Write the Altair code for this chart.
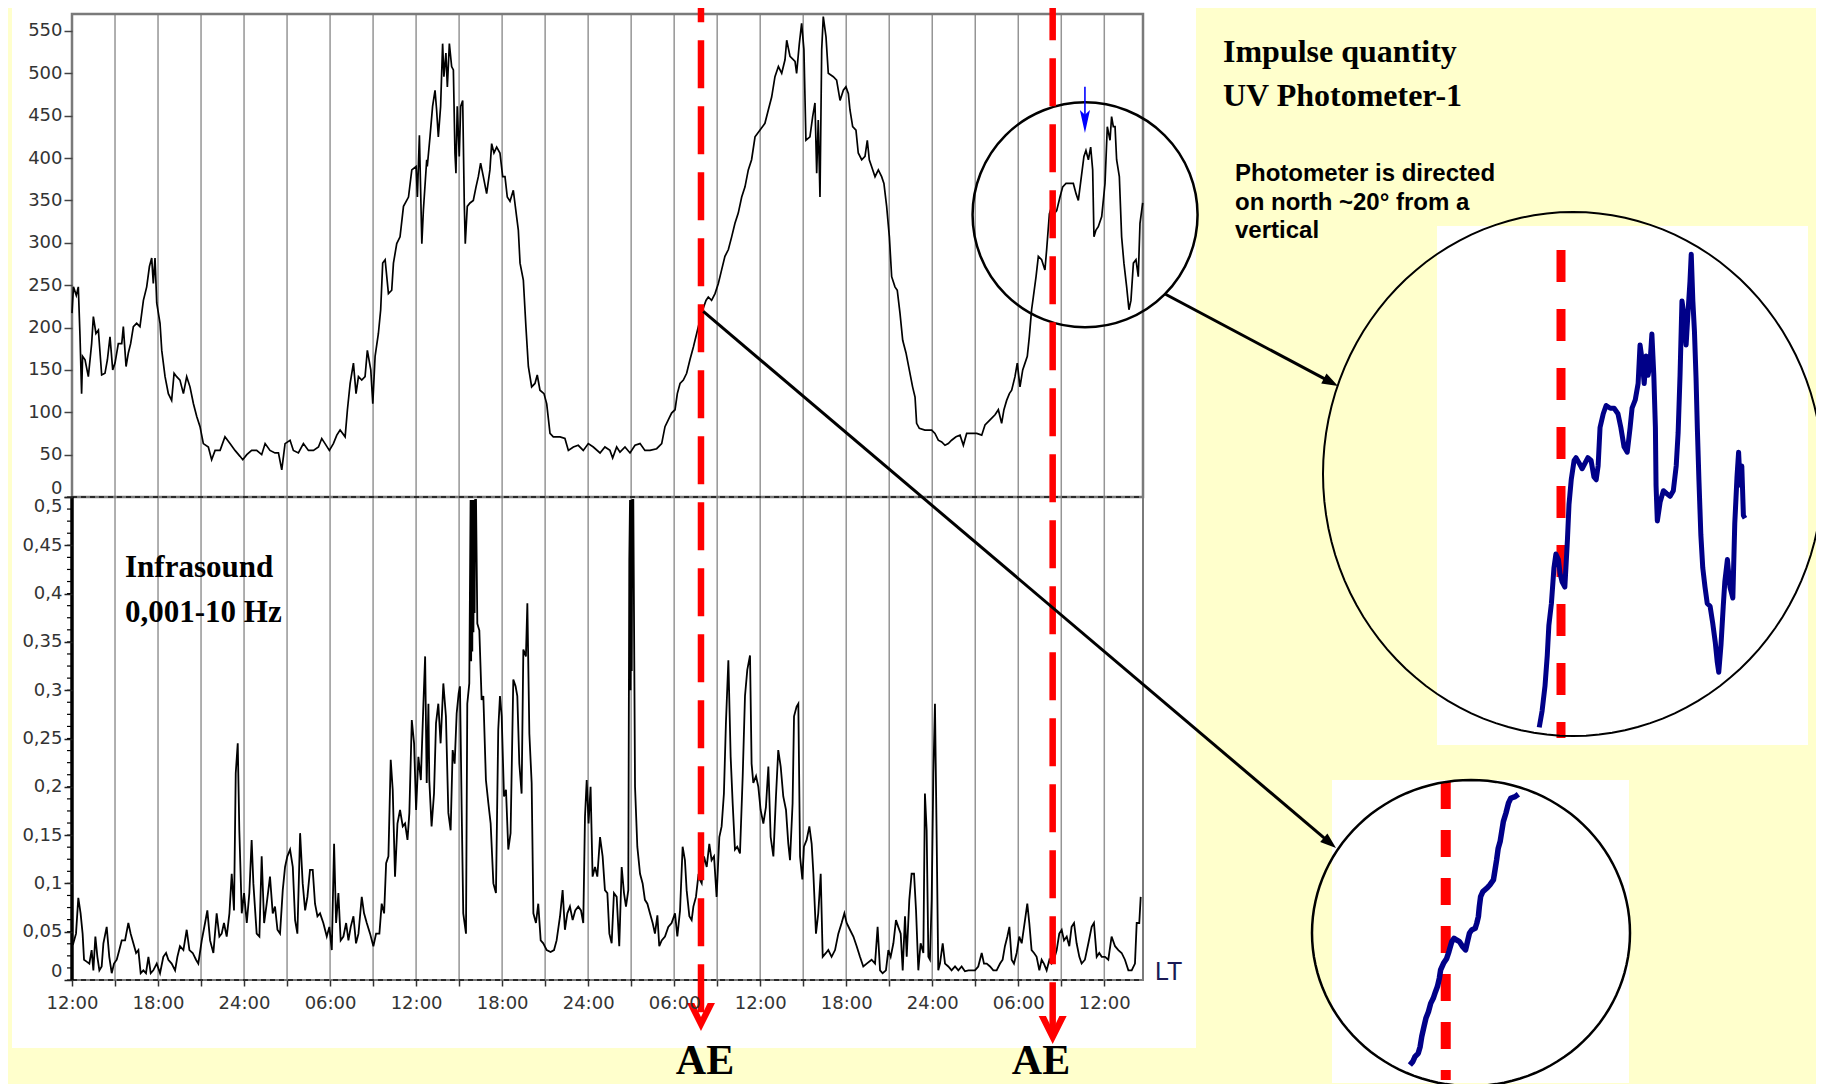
import math
import json
import pandas as pd
import altair as alt

# ---------------- values ----------------
# time axis: hours counted from 12:00 LT of the first day
UV_READINGS = [
    (0.00, 217), (0.10, 248), (0.30, 238), (0.44, 248), (0.56, 189), (0.67, 122), (0.74, 166), (0.91, 162),
    (1.14, 142), (1.37, 181), (1.49, 213), (1.67, 193), (1.84, 197), (2.07, 144), (2.30, 146), (2.47, 162),
    (2.65, 189), (2.84, 150), (3.00, 158), (3.23, 181), (3.47, 181), (3.58, 201), (3.77, 154), (3.93, 170),
    (4.09, 181), (4.28, 201), (4.51, 205), (4.74, 201), (4.98, 232), (5.21, 248), (5.40, 272), (5.56, 282),
    (5.67, 252), (5.79, 282), (5.91, 229), (6.14, 205), (6.26, 173), (6.49, 142), (6.72, 122), (6.95, 114),
    (7.12, 146), (7.30, 142), (7.53, 138), (7.77, 122), (8.00, 142), (8.23, 130), (8.47, 110), (8.70, 95),
    (8.93, 83), (9.16, 63), (9.51, 59), (9.74, 44), (9.98, 55), (10.33, 55), (10.67, 71), (11.02, 63),
    (11.37, 55), (11.72, 48), (11.91, 44), (12.19, 50), (12.53, 55), (12.88, 55), (13.23, 50), (13.47, 63),
    (13.81, 55), (14.16, 52), (14.40, 52), (14.63, 32), (14.86, 63), (15.21, 67), (15.44, 55), (15.79, 52),
    (16.14, 63), (16.49, 55), (16.84, 55), (17.19, 59), (17.42, 69), (17.65, 63), (17.95, 55), (18.23, 63),
    (18.47, 73), (18.70, 79), (19.05, 71), (19.21, 103), (19.40, 134), (19.63, 158), (19.81, 122), (19.98, 142),
    (20.21, 138), (20.44, 142), (20.60, 173), (20.84, 150), (20.98, 110), (21.14, 166), (21.37, 193), (21.53, 221),
    (21.67, 276), (21.84, 280), (22.07, 240), (22.30, 244), (22.42, 276), (22.65, 299), (22.88, 307), (23.12, 343),
    (23.47, 354), (23.70, 386), (24.00, 390), (24.09, 354), (24.23, 427), (24.40, 299), (24.51, 339), (24.74, 398),
    (24.78, 390), (24.97, 425), (25.15, 461), (25.32, 480), (25.43, 457), (25.55, 425), (25.71, 461), (25.85, 535),
    (25.94, 496), (26.08, 524), (26.18, 484), (26.32, 535), (26.48, 508), (26.60, 504), (26.71, 406), (26.78, 382),
    (26.87, 461), (27.01, 402), (27.11, 461), (27.25, 468), (27.36, 347), (27.43, 299), (27.57, 343), (27.76, 347),
    (27.99, 350), (28.18, 366), (28.34, 378), (28.50, 394), (28.69, 378), (28.92, 358), (29.15, 386), (29.27, 417),
    (29.43, 406), (29.62, 413), (29.85, 406), (30.04, 378), (30.20, 378), (30.36, 354), (30.55, 349), (30.78, 362),
    (31.01, 331), (31.13, 315), (31.25, 276), (31.48, 256), (31.66, 201), (31.83, 154), (32.06, 130), (32.29, 134),
    (32.45, 144), (32.64, 126), (32.92, 122), (33.11, 110), (33.34, 75), (33.57, 71), (34.04, 71), (34.38, 69),
    (34.62, 55), (34.97, 59), (35.31, 61), (35.66, 55), (36.01, 63), (36.36, 59), (36.83, 52), (37.17, 59),
    (37.52, 55), (37.71, 46), (37.99, 59), (38.22, 53), (38.57, 59), (38.92, 52), (39.27, 61), (39.62, 63),
    (39.96, 55), (40.31, 55), (40.78, 57), (41.13, 63), (41.36, 83), (41.59, 91), (41.82, 99), (42.06, 103),
    (42.22, 122), (42.41, 134), (42.64, 138), (42.87, 146), (43.10, 162), (43.34, 177), (43.57, 193), (43.80, 209),
    (43.99, 221), (44.22, 232), (44.38, 236), (44.61, 232), (44.85, 240), (45.08, 252), (45.31, 268), (45.54, 284),
    (45.78, 292), (46.01, 307), (46.24, 323), (46.47, 335), (46.71, 354), (46.94, 366), (47.17, 386), (47.40, 398),
    (47.64, 425), (47.99, 433), (48.33, 441), (48.57, 457), (48.80, 472), (49.03, 496), (49.27, 508), (49.50, 500),
    (49.73, 516), (49.85, 539), (50.08, 520), (50.43, 514), (50.54, 500), (50.73, 535), (50.89, 559), (51.05, 528),
    (51.19, 421), (51.47, 425), (51.66, 449), (51.82, 465), (51.94, 382), (52.05, 445), (52.17, 354), (52.29, 528),
    (52.40, 567), (52.59, 543), (52.75, 500), (53.10, 496), (53.33, 492), (53.57, 468), (53.80, 480), (53.98, 484),
    (54.15, 476), (54.26, 457), (54.45, 437), (54.68, 433), (54.84, 406), (55.08, 398), (55.31, 402), (55.47, 421),
    (55.61, 398), (55.77, 390), (56.01, 378), (56.24, 386), (56.47, 378), (56.63, 370), (56.82, 343), (57.01, 307),
    (57.17, 260), (57.40, 248), (57.56, 244), (57.75, 217), (57.94, 185), (58.17, 170), (58.40, 150), (58.63, 130),
    (58.80, 118), (58.91, 87), (59.10, 81), (59.49, 79), (59.96, 79), (60.19, 75), (60.42, 67), (60.66, 65),
    (60.89, 61), (61.12, 63), (61.35, 67), (61.66, 71), (61.94, 73), (62.17, 61), (62.40, 75), (62.75, 75),
    (63.10, 75), (63.45, 73), (63.68, 85), (64.03, 91), (64.38, 97), (64.61, 103), (64.84, 87), (65.00, 103),
    (65.19, 114), (65.38, 122), (65.54, 126), (65.77, 142), (65.93, 158), (66.12, 130), (66.31, 150), (66.47, 158),
    (66.63, 166), (66.77, 189), (66.93, 221), (67.05, 236), (67.24, 260), (67.40, 284), (67.63, 280), (67.86, 268),
    (67.98, 292), (68.17, 334), (68.33, 343), (68.49, 334), (68.68, 338), (68.91, 354), (69.10, 366), (69.33, 370),
    (69.61, 370), (69.84, 370), (70.03, 358), (70.19, 350), (70.37, 374), (70.58, 402), (70.72, 409), (70.89, 398),
    (71.05, 413), (71.19, 386), (71.28, 307), (71.42, 315), (71.58, 319), (71.82, 331), (72.05, 370), (72.21, 437),
    (72.40, 421), (72.51, 449), (72.63, 437), (72.75, 437), (72.86, 398), (73.05, 378), (73.21, 307), (73.37, 276),
    (73.56, 248), (73.72, 221), (73.86, 232), (74.03, 276), (74.21, 280), (74.37, 260), (74.49, 323), (74.68, 347),
]

INF_READINGS = [
    (0.00, 0.040), (0.09, 0.038), (0.28, 0.048), (0.44, 0.085), (0.60, 0.069), (0.74, 0.048), (0.84, 0.021),
    (1.02, 0.019), (1.21, 0.017), (1.37, 0.031), (1.49, 0.010), (1.63, 0.045), (1.77, 0.024), (1.91, 0.010),
    (2.07, 0.014), (2.19, 0.038), (2.42, 0.055), (2.60, 0.024), (2.77, 0.007), (2.93, 0.017), (3.12, 0.021),
    (3.30, 0.031), (3.47, 0.041), (3.70, 0.041), (3.93, 0.059), (4.09, 0.048), (4.28, 0.038), (4.47, 0.028),
    (4.63, 0.031), (4.79, 0.007), (4.98, 0.010), (5.16, 0.007), (5.33, 0.024), (5.49, 0.007), (5.67, 0.010),
    (5.91, 0.017), (6.14, 0.007), (6.37, 0.024), (6.56, 0.028), (6.72, 0.021), (6.95, 0.017), (7.19, 0.010),
    (7.35, 0.024), (7.53, 0.035), (7.77, 0.031), (8.00, 0.052), (8.19, 0.031), (8.42, 0.028), (8.65, 0.021),
    (8.81, 0.017), (9.05, 0.041), (9.28, 0.059), (9.44, 0.072), (9.63, 0.041), (9.86, 0.028), (10.09, 0.069),
    (10.28, 0.045), (10.44, 0.048), (10.60, 0.059), (10.79, 0.045), (10.98, 0.069), (11.14, 0.110), (11.30, 0.072),
    (11.42, 0.214), (11.56, 0.245), (11.67, 0.155), (11.84, 0.069), (12.00, 0.090), (12.19, 0.059), (12.37, 0.090),
    (12.53, 0.145), (12.65, 0.100), (12.88, 0.048), (13.07, 0.045), (13.23, 0.128), (13.40, 0.059), (13.58, 0.079),
    (13.81, 0.107), (14.00, 0.069), (14.16, 0.076), (14.33, 0.052), (14.51, 0.048), (14.70, 0.093), (14.86, 0.117),
    (15.02, 0.128), (15.21, 0.135), (15.40, 0.117), (15.56, 0.062), (15.72, 0.048), (15.91, 0.152), (16.09, 0.100),
    (16.26, 0.072), (16.42, 0.086), (16.60, 0.114), (16.79, 0.114), (16.95, 0.079), (17.12, 0.066), (17.30, 0.069),
    (17.53, 0.059), (17.77, 0.045), (17.95, 0.055), (18.12, 0.031), (18.28, 0.141), (18.42, 0.059), (18.58, 0.090),
    (18.74, 0.041), (18.93, 0.045), (19.12, 0.059), (19.28, 0.041), (19.44, 0.055), (19.63, 0.066), (19.81, 0.038),
    (19.98, 0.048), (20.21, 0.086), (20.37, 0.069), (20.56, 0.059), (20.79, 0.048), (21.02, 0.035), (21.21, 0.048),
    (21.44, 0.048), (21.60, 0.079), (21.77, 0.069), (21.91, 0.121), (22.07, 0.128), (22.23, 0.228), (22.37, 0.197),
    (22.53, 0.107), (22.70, 0.162), (22.88, 0.176), (23.07, 0.159), (23.23, 0.162), (23.40, 0.145), (23.53, 0.173),
    (23.70, 0.269), (23.86, 0.245), (24.00, 0.176), (24.16, 0.231), (24.33, 0.207), (24.51, 0.286), (24.63, 0.335),
    (24.74, 0.204), (24.86, 0.286), (24.92, 0.207), (25.08, 0.159), (25.25, 0.193), (25.39, 0.266), (25.55, 0.286),
    (25.71, 0.245), (25.90, 0.307), (26.08, 0.273), (26.25, 0.173), (26.41, 0.155), (26.55, 0.238), (26.69, 0.224),
    (26.83, 0.276), (26.97, 0.297), (27.06, 0.304), (27.18, 0.176), (27.29, 0.069), (27.48, 0.048), (27.57, 0.286),
    (27.71, 0.307), (27.80, 0.497), (27.84, 0.330), (27.88, 0.497), (27.92, 0.340), (27.96, 0.497), (28.00, 0.360),
    (28.04, 0.497), (28.08, 0.380), (28.12, 0.497), (28.18, 0.497), (28.27, 0.369), (28.41, 0.362), (28.57, 0.290),
    (28.69, 0.294), (28.87, 0.207), (29.04, 0.183), (29.20, 0.162), (29.39, 0.100), (29.57, 0.090), (29.73, 0.259),
    (29.85, 0.294), (29.97, 0.273), (30.13, 0.190), (30.27, 0.197), (30.43, 0.135), (30.59, 0.152), (30.78, 0.311),
    (30.94, 0.304), (31.06, 0.294), (31.20, 0.224), (31.36, 0.193), (31.48, 0.342), (31.66, 0.335), (31.76, 0.390),
    (31.90, 0.255), (32.06, 0.204), (32.18, 0.069), (32.36, 0.059), (32.52, 0.079), (32.69, 0.041), (32.87, 0.038),
    (33.11, 0.031), (33.38, 0.029), (33.62, 0.031), (33.80, 0.041), (34.04, 0.066), (34.22, 0.093), (34.38, 0.052),
    (34.55, 0.069), (34.73, 0.076), (34.92, 0.062), (35.10, 0.072), (35.31, 0.076), (35.50, 0.072), (35.66, 0.059),
    (35.78, 0.169), (35.90, 0.207), (36.03, 0.162), (36.17, 0.200), (36.31, 0.107), (36.48, 0.117), (36.64, 0.107),
    (36.83, 0.148), (37.01, 0.128), (37.17, 0.093), (37.34, 0.090), (37.48, 0.048), (37.64, 0.038), (37.80, 0.090),
    (37.99, 0.086), (38.17, 0.035), (38.34, 0.117), (38.50, 0.090), (38.64, 0.076), (38.80, 0.093), (38.87, 0.435),
    (38.92, 0.497), (38.96, 0.300), (39.00, 0.497), (39.04, 0.320), (39.08, 0.497), (39.15, 0.497), (39.27, 0.200),
    (39.43, 0.138), (39.62, 0.110), (39.80, 0.100), (39.96, 0.083),
    (40.13, 0.079), (40.31, 0.069), (40.50, 0.059), (40.66, 0.048), (40.83, 0.067), (40.96, 0.035), (41.13, 0.041),
    (41.36, 0.045), (41.59, 0.055), (41.82, 0.059), (42.06, 0.069), (42.22, 0.045), (42.41, 0.072), (42.59, 0.138),
    (42.75, 0.124), (42.87, 0.093), (43.06, 0.066), (43.22, 0.062), (43.34, 0.076), (43.52, 0.086), (43.68, 0.107),
    (43.92, 0.100), (44.08, 0.128), (44.27, 0.117), (44.45, 0.141), (44.61, 0.124), (44.78, 0.128), (44.96, 0.086),
    (45.15, 0.148), (45.31, 0.159), (45.47, 0.193), (45.61, 0.266), (45.78, 0.331), (45.94, 0.231), (46.08, 0.183),
    (46.24, 0.135), (46.40, 0.138), (46.59, 0.131), (46.78, 0.211), (46.94, 0.294), (47.10, 0.321), (47.29, 0.336),
    (47.40, 0.224), (47.52, 0.204), (47.71, 0.211), (47.87, 0.200), (48.03, 0.176), (48.22, 0.162), (48.40, 0.179),
    (48.57, 0.221), (48.73, 0.148), (48.92, 0.128), (49.10, 0.190), (49.26, 0.238), (49.43, 0.221), (49.61, 0.190),
    (49.80, 0.176), (49.96, 0.141), (50.08, 0.124), (50.26, 0.183), (50.36, 0.273), (50.54, 0.283), (50.66, 0.286),
    (50.78, 0.128), (50.94, 0.104), (51.05, 0.138), (51.24, 0.145), (51.43, 0.159), (51.59, 0.141), (51.71, 0.110),
    (51.89, 0.048), (52.05, 0.069), (52.22, 0.110), (52.36, 0.024), (52.59, 0.028), (52.75, 0.031), (52.98, 0.024),
    (53.22, 0.031), (53.45, 0.048), (53.68, 0.059), (53.87, 0.069), (54.03, 0.059), (54.26, 0.052), (54.50, 0.045),
    (54.73, 0.035), (54.96, 0.024), (55.19, 0.014), (55.43, 0.017), (55.77, 0.021), (56.01, 0.017), (56.19, 0.055),
    (56.36, 0.010), (56.54, 0.007), (56.77, 0.010), (56.94, 0.031), (57.10, 0.024), (57.29, 0.038), (57.47, 0.062),
    (57.63, 0.055), (57.80, 0.048), (57.94, 0.010), (58.10, 0.066), (58.22, 0.024), (58.40, 0.083), (58.56, 0.110),
    (58.73, 0.110), (58.87, 0.072), (59.03, 0.010), (59.19, 0.038), (59.38, 0.028), (59.49, 0.193), (59.61, 0.155),
    (59.73, 0.024), (59.84, 0.021), (59.96, 0.083), (60.08, 0.214), (60.19, 0.286), (60.31, 0.145), (60.42, 0.010),
    (60.54, 0.017), (60.73, 0.038), (60.89, 0.017), (61.12, 0.014), (61.35, 0.010), (61.59, 0.014), (61.82, 0.010),
    (62.05, 0.014), (62.28, 0.009), (62.52, 0.010), (62.75, 0.010), (62.98, 0.010), (63.21, 0.014), (63.45, 0.028),
    (63.61, 0.017), (63.80, 0.017), (64.03, 0.014), (64.26, 0.010), (64.49, 0.010), (64.73, 0.017), (64.91, 0.021),
    (65.07, 0.035), (65.24, 0.045), (65.38, 0.055), (65.54, 0.021), (65.70, 0.017), (65.89, 0.028), (66.07, 0.045),
    (66.24, 0.038), (66.47, 0.062), (66.63, 0.079), (66.77, 0.059), (66.93, 0.031), (67.10, 0.028), (67.28, 0.024),
    (67.47, 0.010), (67.63, 0.021), (67.79, 0.017), (67.98, 0.010), (68.17, 0.021), (68.33, 0.017), (68.49, 0.021),
    (68.68, 0.031), (68.86, 0.048), (69.03, 0.052), (69.19, 0.041), (69.38, 0.045), (69.56, 0.035), (69.72, 0.055),
    (69.89, 0.059), (70.07, 0.038), (70.26, 0.024), (70.42, 0.017), (70.65, 0.021), (70.89, 0.038), (71.12, 0.055),
    (71.28, 0.059), (71.47, 0.024), (71.65, 0.028), (71.82, 0.024), (72.05, 0.024), (72.28, 0.021), (72.51, 0.045),
    (72.75, 0.035), (72.98, 0.031), (73.21, 0.028), (73.44, 0.021), (73.68, 0.010), (73.91, 0.010), (74.14, 0.017),
    (74.26, 0.059), (74.44, 0.059), (74.54, 0.086),
]

# big magnified circle (second AE, photometer)
ZOOM_A_READINGS = [
    (67.72, 277), (67.81, 283), (67.90, 292), (67.97, 303), (68.02, 314), (68.10, 322), (68.18, 335), (68.24, 340),
    (68.32, 338), (68.37, 333), (68.43, 330), (68.52, 328), (68.60, 345), (68.65, 358), (68.72, 367), (68.81, 374),
    (68.87, 375), (68.97, 373), (69.06, 371), (69.15, 373), (69.24, 375), (69.34, 374), (69.43, 368), (69.50, 367),
    (69.56, 372), (69.62, 386), (69.72, 391), (69.81, 394), (69.94, 393), (70.06, 393), (70.18, 391), (70.27, 386),
    (70.37, 379), (70.47, 377), (70.56, 386), (70.62, 393), (70.72, 396), (70.81, 402), (70.87, 416), (70.93, 411),
    (71.00, 402), (71.06, 412), (71.12, 405), (71.18, 409), (71.24, 420), (71.30, 405), (71.35, 386), (71.37, 365),
    (71.41, 352), (71.50, 359), (71.60, 363), (71.70, 362), (71.81, 361), (71.91, 363), (72.00, 372), (72.06, 384),
    (72.12, 405), (72.18, 432), (72.24, 427), (72.31, 416), (72.37, 428), (72.43, 439), (72.47, 449), (72.52, 432),
    (72.57, 421), (72.62, 404), (72.66, 386), (72.71, 367), (72.77, 347), (72.83, 335), (72.90, 328), (72.97, 322),
    (73.06, 321), (73.14, 315), (73.22, 308), (73.28, 301), (73.33, 297), (73.40, 307), (73.47, 321), (73.52, 330),
    (73.60, 338), (73.68, 328), (73.77, 324), (73.83, 351), (73.90, 368), (73.95, 377), (74.00, 365), (74.05, 372),
    (74.10, 354), (74.15, 353),
]

# small magnified circle (first AE, photometer)
ZOOM_B_READINGS = [
    (42.75, 138.0), (42.84, 140.4), (42.91, 143.9), (43.01, 146.3), (43.07, 151.0), (43.12, 158.1), (43.19, 165.2),
    (43.25, 171.1), (43.33, 175.8), (43.40, 181.7), (43.48, 185.3), (43.55, 190.0), (43.61, 193.6), (43.67, 199.5),
    (43.71, 205.4), (43.80, 210.1), (43.90, 213.6), (43.97, 218.4), (44.06, 225.5), (44.13, 227.8), (44.21, 226.6),
    (44.30, 225.5), (44.40, 221.9), (44.49, 219.6), (44.56, 226.6), (44.61, 231.4), (44.68, 233.7), (44.79, 234.9),
    (44.84, 238.5), (44.89, 243.2), (44.92, 250.3), (44.96, 257.4), (45.03, 260.9), (45.15, 263.3), (45.25, 265.7),
    (45.36, 269.2), (45.41, 276.3), (45.46, 283.4), (45.51, 291.7), (45.57, 296.4), (45.62, 303.5), (45.67, 310.6),
    (45.75, 316.5), (45.83, 323.6), (45.90, 327.1), (46.04, 328.3), (46.14, 330.0),
]

AE_HOURS = [43.87, 68.4]
GRID_HOURS = [3, 6, 9, 12, 15, 18, 21, 24, 27, 30, 33, 36, 39, 42, 45, 48, 51, 54, 57, 60, 63, 66, 69, 72]
X_TICKS = [0] + GRID_HOURS
X_LABELS = ["12:00", "18:00", "24:00", "06:00"]
UV_TICKS = [0, 50, 100, 150, 200, 250, 300, 350, 400, 450, 500, 550]
INF_TICKS = [0, 0.05, 0.1, 0.15, 0.2, 0.25, 0.3, 0.35, 0.4, 0.45, 0.5]
INF_MINOR = [round(i * 0.0125, 4) for i in range(41)]
CIRCLE_CENTER = (70.66, 333)          # hours, impulses
BLUE_ARROW = (70.65, 484, 436, 429.5)  # hours, from, to, tip
CONNECT_START = (44.03, 219)

TITLE_LINES = ["Impulse quantity", "UV Photometer-1"]
NOTE_LINES = ["Photometer is directed", "on north ~20\u00b0 from a", "vertical"]
INFRA_LINES = ["Infrasound", "0,001-10 Hz"]

# ---------------- layout ----------------
W, HT, H = 1071, 483, 966
X_MAX, UV_MAX, INF_MAX = 74.7, 570, 0.5


def px(h):
    return h / X_MAX * W


def py_top(v):
    return HT - v / UV_MAX * HT


uv_df = pd.DataFrame(UV_READINGS, columns=["h", "v"])
inf_df = pd.DataFrame(INF_READINGS, columns=["h", "v"])
za_df = pd.DataFrame(ZOOM_A_READINGS, columns=["h", "v"])
zb_df = pd.DataFrame(ZOOM_B_READINGS, columns=["h", "v"])
grid_df = pd.DataFrame({"h": GRID_HOURS})
minor_df = pd.DataFrame({"v": INF_MINOR})
one = pd.DataFrame({"k": [0]})

SX = alt.Scale(domain=[0, X_MAX], nice=False, zero=False)
SY_TOP = alt.Scale(domain=[0, UV_MAX], range=[HT, 0], nice=False, zero=False)
SY_BOT = alt.Scale(domain=[0, INF_MAX], range=[H, HT], nice=False, zero=False)

LABEL_FONT = "DejaVu Sans"
x_expr = "datum.value % 6 == 0 ? " + json.dumps(X_LABELS) + "[floor(datum.value / 6) % 4] : ''"
AXIS_X = alt.Axis(values=X_TICKS, labelExpr=x_expr, orient="bottom", title=None, grid=False, domain=False,
                  tickSize=6, tickColor="#333333", tickWidth=1.5, labelFont=LABEL_FONT, labelFontSize=18,
                  labelColor="#333333", labelPadding=8, labelFlush=False, labelOverlap=False, zindex=1)
AXIS_TOP = alt.Axis(values=UV_TICKS, orient="left", title=None, grid=False, domain=False, tickSize=8,
                    tickColor="#444444", tickWidth=1.5, labelFont=LABEL_FONT, labelFontSize=18,
                    labelColor="#333333", labelPadding=2, labelOverlap=False, zindex=1,
                    labelBaseline={"condition": {"test": "datum.value == 0", "value": "bottom"},
                                   "value": "middle"})
AXIS_BOT = alt.Axis(values=INF_TICKS, orient="left", title=None, grid=False, domain=False, tickSize=8,
                    tickColor="#222222", tickWidth=1.5, labelFont=LABEL_FONT, labelFontSize=18,
                    labelColor="#333333", labelPadding=2, labelOverlap=False, zindex=1, format=".2~f",
                    labelExpr="replace(datum.label, '.', ',')",
                    labelBaseline={"condition": [{"test": "datum.value == 0", "value": "bottom"},
                                                 {"test": "datum.value > 0.49", "value": "top"}],
                                   "value": "middle"})


def X_main():
    return alt.X("h:Q", scale=SX, axis=AXIS_X)


def vrect(x0, x1, y0, y1, **kw):
    return alt.Chart(one).mark_rect(**kw).encode(
        x=alt.value(x0), x2=alt.value(x1), y=alt.value(y0), y2=alt.value(y1))


def vtext(x, y, s, **kw):
    return alt.Chart(one).mark_text(**kw).encode(x=alt.value(x), y=alt.value(y), text=alt.value(s))


def ellipse_path(ratio, n=120):
    pts = []
    for i in range(n):
        t = 2 * math.pi * i / n
        pts.append(f"{math.cos(t):.4f},{ratio * math.sin(t):.4f}")
    return "M" + " L".join(pts) + " Z"


ARROW_PATH = "M0,0 L-2,-0.7 L-2,0.7 Z"
V_PATH = "M0,0 L-0.5,-1 L-0.24,-1 L0,-0.5 L0.24,-1 L0.5,-1 Z"
BLUE_HEAD_PATH = "M0,0 L-0.22,-1 L0,-0.8 L0.22,-1 Z"

# ---------------- main two-panel chart ----------------
grid = alt.Chart(grid_df).mark_rule(color="#959595", strokeWidth=1.5).encode(
    x=X_main(), y=alt.value(0), y2=alt.value(H))
frame_top = vrect(0, W, 0, HT, fillOpacity=0, stroke="#7a7a7a", strokeWidth=2.5)
frame_bot = vrect(0, W, HT, H, fillOpacity=0, stroke="#7a7a7a", strokeWidth=2)
dash_mid = alt.Chart(one).mark_rule(color="#111111", strokeWidth=1.5, strokeDash=[5, 4]).encode(
    x=alt.value(0), x2=alt.value(W), y=alt.value(HT))
dash_bot = alt.Chart(one).mark_rule(color="#111111", strokeWidth=1.5, strokeDash=[5, 4]).encode(
    x=alt.value(0), x2=alt.value(W), y=alt.value(H))
left_bar = alt.Chart(one).mark_rule(color="black", strokeWidth=3.5).encode(
    x=alt.value(0), y=alt.value(HT), y2=alt.value(H))
minor = alt.Chart(minor_df).mark_rule(color="black", strokeWidth=1.2).encode(
    y=alt.Y("v:Q", scale=SY_BOT, axis=None), x=alt.value(-5), x2=alt.value(0))

uv_line = alt.Chart(uv_df).mark_line(color="black", strokeWidth=1.7).encode(
    x=X_main(), y=alt.Y("v:Q", scale=SY_TOP, axis=AXIS_TOP))
inf_line = alt.Chart(inf_df).mark_line(color="black", strokeWidth=1.8).encode(
    x=X_main(), y=alt.Y("v:Q", scale=SY_BOT, axis=AXIS_BOT))

red_layers = []
for hh, tip, off in zip(AE_HOURS, [1017, 1030], [32.7, 14.7]):
    d = pd.DataFrame({"h": [hh]})
    red_layers.append(alt.Chart(d).mark_rule(color="#ff0000", strokeWidth=6.5, strokeDash=[48, 18],
                                             strokeDashOffset=off).encode(
        x=X_main(), y=alt.value(-7), y2=alt.value(tip - 4)))
    red_layers.append(alt.Chart(d).mark_point(shape=V_PATH, size=(2 * 28) ** 2, filled=True, color="#ff0000",
                                              opacity=1, strokeWidth=0).encode(
        x=X_main(), y=alt.value(tip)))

circ_df = pd.DataFrame({"h": [CIRCLE_CENTER[0]], "v": [CIRCLE_CENTER[1]]})
main_circle = alt.Chart(circ_df).mark_point(shape="circle", size=225 ** 2, filled=False, stroke="black",
                                            strokeWidth=2.5, opacity=1).encode(
    x=X_main(), y=alt.Y("v:Q", scale=SY_TOP, axis=None))
ba_df = pd.DataFrame({"h": [BLUE_ARROW[0]], "v1": [BLUE_ARROW[1]], "v2": [BLUE_ARROW[2]], "tip": [BLUE_ARROW[3]]})
blue_line = alt.Chart(ba_df).mark_rule(color="#0000ff", strokeWidth=1.6).encode(
    x=X_main(), y=alt.Y("v1:Q", scale=SY_TOP, axis=None), y2="v2:Q")
blue_head = alt.Chart(ba_df).mark_point(shape=BLUE_HEAD_PATH, size=(2 * 23) ** 2, filled=True, color="#0000ff",
                                        opacity=1, strokeWidth=0).encode(
    x=X_main(), y=alt.Y("tip:Q", scale=SY_TOP, axis=None))

main = alt.layer(grid, frame_top, frame_bot, minor, uv_line, inf_line, dash_mid, dash_bot, left_bar,
                 main_circle, blue_line, blue_head, *red_layers).resolve_scale(y="independent")

# ---------------- magnified insets ----------------
SXA = alt.Scale(domain=[67, 75], range=[1444.2, 1700.2], nice=False, zero=False)
SYA = alt.Scale(domain=[250, 470], range=[787.6, 182.4], nice=False, zero=False)
inset_a = alt.layer(
    alt.Chart(pd.DataFrame({"h": [AE_HOURS[1]]})).mark_rule(color="#ff0000", strokeWidth=9,
                                                           strokeDash=[32, 27]).encode(
        x=alt.X("h:Q", scale=SXA, axis=None), y=alt.value(236), y2=alt.value(724)),
    alt.Chart(za_df).mark_line(color="#000088", strokeWidth=5, strokeJoin="round").encode(
        x=alt.X("h:Q", scale=SXA, axis=None), y=alt.Y("v:Q", scale=SYA, axis=None)),
)
SXB = alt.Scale(domain=[42.5, 46.5], range=[1329.9, 1457.9], nice=False, zero=False)
SYB = alt.Scale(domain=[100, 350], range=[1104.6, 752], nice=False, zero=False)
inset_b = alt.layer(
    alt.Chart(pd.DataFrame({"h": [AE_HOURS[0]]})).mark_rule(color="#ff0000", strokeWidth=10,
                                                           strokeDash=[27, 21]).encode(
        x=alt.X("h:Q", scale=SXB, axis=None), y=alt.value(768), y2=alt.value(1066)),
    alt.Chart(zb_df).mark_line(color="#000088", strokeWidth=5.5, strokeJoin="round").encode(
        x=alt.X("h:Q", scale=SXB, axis=None), y=alt.Y("v:Q", scale=SYB, axis=None)),
)

# ---------------- decorations ----------------
white_panel = vrect(-60, 1124, -7, 1034, color="white")
white_a = vrect(1365, 1736, 212, 731, color="white")
white_b = vrect(1260, 1557, 766, 1069, color="white")

ell_a = alt.Chart(one).mark_point(shape=ellipse_path(262 / 250), size=500 ** 2, filled=False, stroke="black",
                                  strokeWidth=2, opacity=1).encode(x=alt.value(1501), y=alt.value(460))
ell_b = alt.Chart(one).mark_point(shape=ellipse_path(153 / 159), size=318 ** 2, filled=False, stroke="black",
                                  strokeWidth=2.5, opacity=1).encode(x=alt.value(1399), y=alt.value(919))

sx0, sy0 = px(CONNECT_START[0]), py_top(CONNECT_START[1])
tip1 = (1264, 834)
ang1 = math.degrees(math.atan2(tip1[1] - sy0, tip1[0] - sx0))
c1 = alt.Chart(one).mark_rule(color="black", strokeWidth=3).encode(
    x=alt.value(sx0), y=alt.value(sy0),
    x2=alt.value(tip1[0] - 6 * math.cos(math.radians(ang1))),
    y2=alt.value(tip1[1] - 6 * math.sin(math.radians(ang1))))
a1 = alt.Chart(one).mark_point(shape=ARROW_PATH, size=256, filled=True, color="black", opacity=1,
                               strokeWidth=0, angle=ang1).encode(x=alt.value(tip1[0]), y=alt.value(tip1[1]))

cx0, cy0 = px(CIRCLE_CENTER[0]), py_top(CIRCLE_CENTER[1])
st2 = (cx0 + 112.5 * math.cos(math.radians(44.7)), cy0 + 112.5 * math.sin(math.radians(44.7)))
tip2 = (1266, 372)
ang2 = math.degrees(math.atan2(tip2[1] - st2[1], tip2[0] - st2[0]))
c2 = alt.Chart(one).mark_rule(color="black", strokeWidth=3).encode(
    x=alt.value(st2[0]), y=alt.value(st2[1]),
    x2=alt.value(tip2[0] - 6 * math.cos(math.radians(ang2))),
    y2=alt.value(tip2[1] - 6 * math.sin(math.radians(ang2))))
a2 = alt.Chart(one).mark_point(shape=ARROW_PATH, size=256, filled=True, color="black", opacity=1,
                               strokeWidth=0, angle=ang2).encode(x=alt.value(tip2[0]), y=alt.value(tip2[1]))

serif = dict(font="Liberation Serif", fontWeight="bold", color="black", align="left", baseline="alphabetic")
sans = dict(font="Liberation Sans", fontWeight="bold", color="black", align="left", baseline="alphabetic")
texts = [
    vtext(1151, 48, TITLE_LINES[0], fontSize=32, **serif),
    vtext(1151, 92, TITLE_LINES[1], fontSize=32, **serif),
    vtext(1163, 167, NOTE_LINES[0], fontSize=24, **sans),
    vtext(1163, 195.5, NOTE_LINES[1], fontSize=24, **sans),
    vtext(1163, 224, NOTE_LINES[2], fontSize=24, **sans),
    vtext(53, 563, INFRA_LINES[0], fontSize=31, **serif),
    vtext(53, 608, INFRA_LINES[1], fontSize=31, **serif),
    vtext(633, 1060, "AE", fontSize=42, font="Liberation Serif", fontWeight="bold", color="black",
          align="center", baseline="alphabetic"),
    vtext(969, 1060, "AE", fontSize=42, font="Liberation Serif", fontWeight="bold", color="black",
          align="center", baseline="alphabetic"),
    vtext(1083, 966, "LT", fontSize=25, font="Liberation Sans", color="#1a1a55", align="left",
          baseline="alphabetic"),
]

chart = alt.layer(
    white_panel, white_a, white_b, main, inset_a, inset_b, ell_a, ell_b, c1, c2, a1, a2, *texts
).resolve_scale(x="independent", y="independent").properties(
    width=W, height=H,
    autosize=alt.AutoSizeParams(type="none"),
    padding={"left": 64, "top": 6, "right": 673, "bottom": 104},
    background="#FFFFCC",
).configure_view(strokeWidth=0)

chart.save("out.html", embed_options={"renderer": "svg", "actions": False})
